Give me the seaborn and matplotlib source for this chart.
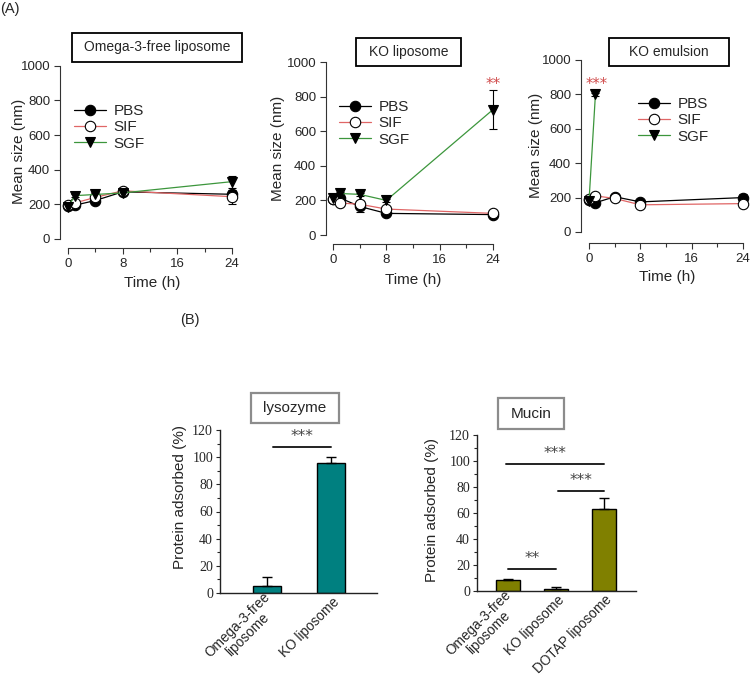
import matplotlib
matplotlib.use('Agg')
import matplotlib.pyplot as plt
import matplotlib.transforms as mtransforms
from matplotlib.patches import Rectangle
import seaborn as sns

# (A) mean size over time, three formulations
time_pts = [0, 1, 4, 8, 24]

omega_pbs = [192, 195, 222, 272, 258]
omega_pbs_err = [5, 5, 20, 10, 20]
omega_sif = [195, 208, 240, 278, 244]
omega_sif_err = [5, 10, 15, 10, 40]
omega_sgf = [185, 250, 257, 266, 331]
omega_sgf_err = [5, 10, 15, 10, 35]

kolipo_pbs = [210, 215, 165, 125, 118]
kolipo_pbs_err = [10, 20, 30, 10, 10]
kolipo_sif = [210, 185, 178, 150, 125]
kolipo_sif_err = [10, 10, 20, 10, 5]
kolipo_sgf = [215, 240, 235, 200, 725]
kolipo_sgf_err = [10, 10, 10, 10, 112]

koemul_pbs = [185, 170, 205, 175, 200]
koemul_pbs_err = [10, 10, 10, 10, 20]
koemul_sif = [190, 210, 195, 158, 165]
koemul_sif_err = [10, 10, 10, 10, 10]
koemul_sgf_time = [0, 1]
koemul_sgf = [180, 800]
koemul_sgf_err = [10, 10]

# (B) protein adsorption
lyso_groups = ['Omega-3-free\nliposome', 'KO liposome']
lyso_mean = [5, 95.5]
lyso_err = [6.5, 4.5]

mucin_groups = ['Omega-3-free\nliposome', 'KO liposome', 'DOTAP liposome']
mucin_mean = [8.5, 1.5, 63]
mucin_err = [0.7, 1.5, 8.5]

W, H = 750, 677
sns.set_style('ticks')
plt.rcParams['font.family'] = ['Liberation Sans', 'DejaVu Sans']

fig = plt.figure(figsize=(W / 100, H / 100), dpi=100)


def px_axes(left, right, top, bottom):
    return fig.add_axes([left / W, 1 - bottom / H, (right - left) / W, (bottom - top) / H])


def box_title(x0, x1, y0, y1, text, edge, size, lw):
    fig.add_artist(Rectangle((x0 / W, 1 - y1 / H), (x1 - x0) / W, (y1 - y0) / H,
                             transform=fig.transFigure, fill=False, edgecolor=edge, linewidth=lw))
    fig.text((x0 + x1) / 2 / W, 1 - (y0 + y1) / 2 / H, text, ha='center', va='center', fontsize=size)


def time_panel(ax, series, xlim, ylim, legend_at, ylab_at, xlab_at):
    for t, vals, err, color, marker, face, name in series:
        ax.errorbar(t, vals, yerr=err, fmt='none', ecolor='black', elinewidth=0.8,
                    capsize=3, capthick=0.8, zorder=2)
        sns.lineplot(x=t, y=vals, ax=ax, color=color, linewidth=0.9, marker=marker,
                     markersize=7.5, markerfacecolor=face, markeredgecolor='black',
                     markeredgewidth=0.8, label=name, zorder=3)
    ax.set_xlim(*xlim)
    ax.set_ylim(*ylim)
    ax.set_xticks([0, 8, 16, 24])
    ax.set_xticks([4, 12, 20], minor=True)
    ax.set_yticks(range(0, 1001, 200))
    ax.spines['bottom'].set_bounds(0, 24)
    ax.spines['left'].set_bounds(0, 1000)
    for s in ['left', 'bottom']:
        ax.spines[s].set_linewidth(0.8)
        ax.spines[s].set_color('#333333')
    sns.despine(ax=ax)
    ax.tick_params(which='major', length=4, width=0.8, labelsize=9.5, pad=3, color='#333333')
    ax.tick_params(which='minor', length=3, width=0.8, color='#333333')
    ax.set_xlabel('Time (h)', fontsize=11)
    ax.set_ylabel('Mean size (nm)', fontsize=11)
    ax.xaxis.set_label_coords(*xlab_at)
    ax.yaxis.set_label_coords(*ylab_at)
    ax.xaxis.label.set_va('center')
    ax.yaxis.label.set_va('center')
    ax.legend(loc='upper left', bbox_to_anchor=legend_at, frameon=False, fontsize=11,
              handlelength=2.1, handletextpad=0.5, labelspacing=0.15, borderpad=0, borderaxespad=0)


red = '#e06666'
green = '#3c963c'

ax1 = px_axes(60, 240, 60, 248)
time_panel(ax1, [
    (time_pts, omega_pbs, omega_pbs_err, 'black', 'o', 'black', 'PBS'),
    (time_pts, omega_sif, omega_sif_err, red, 'o', 'white', 'SIF'),
    (time_pts, omega_sgf, omega_sgf_err, green, 'v', 'black', 'SGF'),
], (-1.17, 25.17), (-52, 1033), (0.078, 0.766), (-0.228, 0.513), (0.511, -0.186))

ax2 = px_axes(326, 501, 57, 244)
time_panel(ax2, [
    (time_pts, kolipo_pbs, kolipo_pbs_err, 'black', 'o', 'black', 'PBS'),
    (time_pts, kolipo_sif, kolipo_sif_err, red, 'o', 'white', 'SIF'),
    (time_pts, kolipo_sgf, kolipo_sgf_err, green, 'v', 'black', 'SGF'),
], (-1.05, 25.2), (-52, 1029), (0.074, 0.77), (-0.277, 0.513), (0.497, -0.193))
ax2.text(24, 870, '**', ha='center', va='center', color='#d04a4a', fontsize=11,
         family='DejaVu Sans')

ax3 = px_axes(581, 750, 55, 243)
time_panel(ax3, [
    (time_pts, koemul_pbs, koemul_pbs_err, 'black', 'o', 'black', 'PBS'),
    (time_pts, koemul_sif, koemul_sif_err, red, 'o', 'white', 'SIF'),
    (koemul_sgf_time, koemul_sgf, koemul_sgf_err, green, 'v', 'black', 'SGF'),
], (-1.25, 25.1), (-64, 1029), (0.337, 0.777), (-0.266, 0.52), (0.509, -0.181))
ax3.text(1.2, 858, '***', ha='center', va='center', color='#d04a4a', fontsize=10.5,
         family='DejaVu Sans')

box_title(72, 242, 33, 62, 'Omega-3-free liposome', 'black', 10, 1.3)
box_title(356, 461, 38, 66, 'KO liposome', 'black', 10, 1.3)
box_title(609, 729, 38, 66, 'KO emulsion', 'black', 10, 1.3)


def bar_panel(ax, groups, means, errs, color, xlim, ylab_at, width):
    sns.barplot(x=groups, y=means, ax=ax, color=color, saturation=1, width=width,
                edgecolor='black', linewidth=1, errorbar=None)
    ax.errorbar(range(len(groups)), means, yerr=[[0] * len(errs), errs], fmt='none',
                ecolor='black', elinewidth=1, capsize=3.5, capthick=1)
    ax.set_xlim(*xlim)
    ax.set_ylim(0, 120)
    ax.set_yticks(range(0, 121, 20))
    ax.set_yticks(range(10, 120, 20), minor=True)
    sns.despine(ax=ax)
    for s in ['left', 'bottom']:
        ax.spines[s].set_linewidth(1)
        ax.spines[s].set_color('#222222')
    ax.tick_params(axis='y', which='major', length=3, width=0.8, pad=2)
    ax.tick_params(axis='y', which='minor', length=2, width=0.8)
    ax.tick_params(axis='x', length=0, pad=5)
    for lab in ax.get_yticklabels():
        lab.set_family('Liberation Serif')
        lab.set_fontsize(10)
    ax.set_xticks(range(len(groups)))
    ax.set_xticklabels(groups, rotation=45, ha='right', va='center', rotation_mode='anchor',
                       fontsize=9.8, linespacing=1.0, multialignment='center')
    shift = mtransforms.ScaledTranslation(6 / 100, 0, fig.dpi_scale_trans)
    for lab in ax.get_xticklabels():
        lab.set_transform(lab.get_transform() + shift)
    ax.set_ylabel('Protein adsorbed (%)', fontsize=11)
    ax.yaxis.set_label_coords(*ylab_at)
    ax.yaxis.label.set_va('center')


def sig_bar(ax, x0, x1, y, stars):
    ax.plot([x0, x1], [y, y], color='#222222', linewidth=1.4)
    ax.text((x0 + x1) / 2, y + 2, stars, ha='center', va='bottom', fontsize=11,
            color='#444444', family='DejaVu Sans')


ax4 = px_axes(220, 377, 430, 593)
bar_panel(ax4, lyso_groups, lyso_mean, lyso_err, '#008080', (-0.73, 1.72), (-0.257, 0.586), 0.44)
sig_bar(ax4, 0.1, 1.0, 107.5, '***')

ax5 = px_axes(477, 636, 435, 591)
bar_panel(ax5, mucin_groups, mucin_mean, mucin_err, '#808000', (-0.65, 2.67), (-0.28, 0.522), 0.5)
sig_bar(ax5, -0.05, 2.0, 97.7, '***')
sig_bar(ax5, 1.05, 2.0, 77, '***')
sig_bar(ax5, 0.0, 1.0, 17, '**')

box_title(251, 339, 393, 423, 'lysozyme', '#8c8c8c', 11, 1.6)
box_title(498, 564, 398, 429, 'Mucin', '#8c8c8c', 11, 1.6)

fig.text(10 / W, 1 - 9 / H, '(A)', ha='center', va='center', fontsize=10.5)
fig.text(190 / W, 1 - 320 / H, '(B)', ha='center', va='center', fontsize=10.5)

fig.savefig('out.png', dpi=100)
